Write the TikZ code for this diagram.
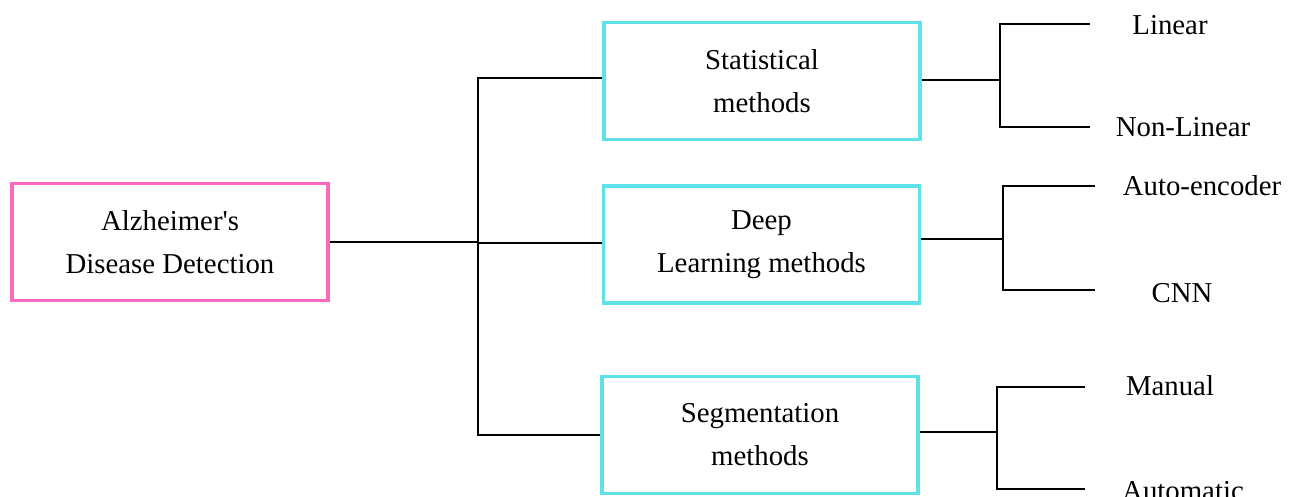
\documentclass[tikz,border=0pt]{standalone}
\usepackage{fontspec}
\setmainfont{Liberation Serif}[Ligatures=TeXOff]
\definecolor{rootpink}{RGB}{250,105,190}
\definecolor{boxcyan}{RGB}{95,225,232}
\begin{document}
\begin{tikzpicture}[x=1pt,y=-1pt,
  box/.style={draw, line width=3.5pt, minimum width=316pt, minimum height=117pt, inner sep=0pt, align=center, font=\fontsize{28.8}{43}\selectfont},
  rootbox/.style={box, draw=rootpink},
  methbox/.style={box, draw=boxcyan},
  leaf/.style={font=\fontsize{28.8}{34}\selectfont, inner sep=0pt},
  conn/.style={draw=black, line width=2.7pt}
]
\useasboundingbox (0,0) rectangle (1294,496);

\node[rootbox] (root) at (170,242) {Alzheimer's\\Disease Detection};
\node[methbox] (b1) at (762,81) {Statistical\\methods};
\node[methbox] (b2) at (761.5,244.5) {Deep\\Learning methods};
\node[methbox] (b3) at (760,435) {Segmentation\\methods};

% trunk
\coordinate (tr) at (478,242);
\coordinate (t1) at (478,78);
\coordinate (t2) at (478,243);
\coordinate (t3) at (478,435);
\draw[conn] (root.east |- tr) -- (tr);
\draw[conn] (t1 -| b1.west) -- (t1) -- (t3) -- (t3 -| b3.west);
\draw[conn] (t2) -- (t2 -| b2.west);

% statistical
\coordinate (j1) at (1000,80);
\coordinate (e1a) at (1090,24);
\coordinate (e1b) at (1090,127);
\draw[conn] (b1.east |- j1) -- (j1);
\draw[conn] (e1a) -- (e1a -| j1) -- (e1b -| j1) -- (e1b);
\node[leaf] (lin) at (1170,25) {Linear};
\node[leaf] (nlin) at (1183,127) {Non-Linear};

% deep learning
\coordinate (j2) at (1003,239);
\coordinate (e2a) at (1095,186);
\coordinate (e2b) at (1095,290);
\draw[conn] (b2.east |- j2) -- (j2);
\draw[conn] (e2a) -- (e2a -| j2) -- (e2b -| j2) -- (e2b);
\node[leaf] (ae) at (1202,186) {Auto-encoder};
\node[leaf] (cnn) at (1182,293) {CNN};

% segmentation
\coordinate (j3) at (997,432);
\coordinate (e3a) at (1085,387);
\coordinate (e3b) at (1085,489);
\draw[conn] (b3.east |- j3) -- (j3);
\draw[conn] (e3a) -- (e3a -| j3) -- (e3b -| j3) -- (e3b);
\node[leaf] (man) at (1170,386) {Manual};
\node[leaf] (auto) at (1183,491) {Automatic};
\end{tikzpicture}
\end{document}
